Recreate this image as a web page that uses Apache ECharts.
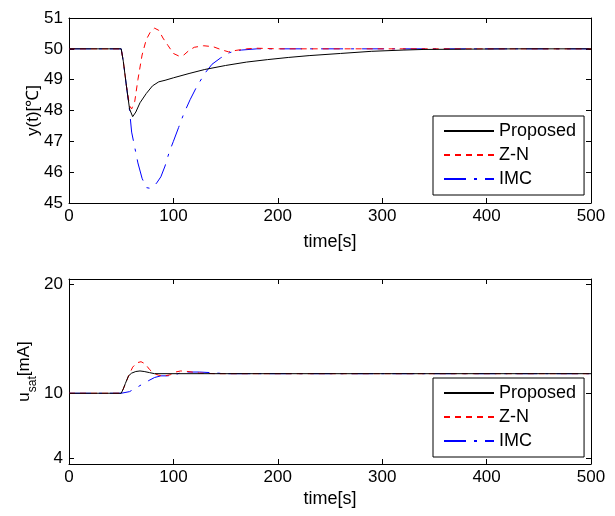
<!doctype html>
<html>
<head>
<meta charset="UTF-8">
<title>Temperature control response</title>
<script src="https://cdn.jsdelivr.net/npm/echarts@6/dist/echarts.min.js"></script>
<style>
	html, body { margin: 0; padding: 0; background: #fff; }
	#main { width: 615px; height: 516px; }
</style>
</head>
<body>
<div id="main"></div>
<script>
// series names
var names = ['Proposed', 'Z-N', 'IMC'];
var xTicks = [0, 100, 200, 300, 400, 500];
var yTicksTop = [45, 46, 47, 48, 49, 50, 51];
var yTicksBottom = [4, 10, 20];

// top plot: output temperature y(t)
var tPropY = [0, 50, 52, 55, 58, 61, 64, 68, 74, 80, 86, 92, 100, 115, 130, 150, 170, 190, 210, 230, 260, 290, 320, 340, 380, 430, 500];
var vPropY = [50, 50, 49.6, 48.8, 48.05, 47.8, 47.95, 48.25, 48.55, 48.8, 48.93, 48.98, 49.06, 49.2, 49.33, 49.46, 49.57, 49.65, 49.72, 49.78, 49.85, 49.92, 49.96, 49.98, 49.99, 50, 50];

var tZnY = [0, 50, 52, 55, 58, 60, 63, 66, 70, 74, 78, 82, 86, 90, 95, 100, 105, 110, 115, 120, 129, 138, 146, 153, 160, 170, 180, 200, 500];
var vZnY = [50, 50, 49.6, 48.8, 48.15, 48.05, 48.3, 49.0, 49.8, 50.3, 50.55, 50.67, 50.6, 50.35, 50.1, 49.85, 49.77, 49.8, 49.95, 50.05, 50.1, 50.07, 49.97, 49.9, 49.95, 50.0, 50.02, 50, 50];

var tImcY = [0, 50, 52, 55, 58, 60, 63, 66, 70, 74, 77, 80, 84, 88, 92, 96, 100, 105, 110, 116, 122, 130, 137, 145, 154, 165, 180, 200, 500];
var vImcY = [50, 50, 49.6, 48.8, 48.0, 47.3, 46.8, 46.3, 45.8, 45.5, 45.48, 45.5, 45.65, 45.85, 46.2, 46.65, 47.0, 47.45, 47.9, 48.35, 48.75, 49.2, 49.5, 49.7, 49.88, 49.96, 50.0, 50, 50];

// bottom plot: saturated control signal u_sat
var tPropU = [0, 50, 52, 54, 57, 60, 64, 68, 72, 77, 82, 500];
var vPropU = [10, 10, 10.4, 10.9, 11.6, 11.85, 12.0, 12.05, 12.0, 11.9, 11.8, 11.8];

var tZnU = [0, 50, 52, 55, 58, 61, 65, 69, 73, 77, 81, 86, 92, 97, 102, 107, 114, 125, 140, 500];
var vZnU = [10, 10, 10.4, 11.1, 11.8, 12.4, 12.8, 12.9, 12.7, 12.2, 11.85, 11.65, 11.6, 11.7, 11.95, 12.05, 12.0, 11.85, 11.8, 11.8];

var tImcU = [0, 50, 58, 67, 76, 82, 88, 94, 100, 106, 112, 125, 135, 150, 500];
var vImcU = [10, 10, 10.15, 10.65, 11.15, 11.45, 11.6, 11.6, 11.65, 11.85, 11.95, 11.95, 11.9, 11.8, 11.8];

function zip(t, v) {
	var out = [];
	for (var i = 0; i < t.length; i++) out.push([t[i], v[i]]);
	return out;
}

var font = '"Liberation Sans", Arial, Helvetica, sans-serif';
var styles = [
	{ color: '#000000', type: 'solid' },
	{ color: '#ff0000', type: [6, 5] },
	{ color: '#0000ff', type: [22, 8, 3, 8] }
];

var chart = echarts.init(document.getElementById('main'), null, { renderer: 'canvas' });

function xAx(grid, bottom, gap) {
	return {
		type: 'value', gridIndex: grid, min: 0, max: 500, interval: 100,
		position: bottom ? 'bottom' : 'top',
		name: bottom ? 'time[s]' : '', nameLocation: 'middle', nameGap: gap,
		nameMoveOverlap: false,
		nameTextStyle: { fontFamily: font, fontSize: 18, color: '#000' },
		axisLine: { show: true, onZero: false, lineStyle: { color: '#000', width: 1 } },
		axisTick: { show: true, inside: true, length: 5, lineStyle: { color: '#000' } },
		axisLabel: { show: bottom, margin: 5, fontFamily: font, fontSize: 17, color: '#000' },
		splitLine: { show: false }
	};
}

function yAx(grid, left, min, max, ticks, name, gap) {
	return {
		type: 'value', gridIndex: grid, min: min, max: max,
		position: left ? 'left' : 'right',
		name: left ? name : '', nameLocation: 'middle', nameGap: gap,
		nameMoveOverlap: false,
		nameTextStyle: { fontFamily: font, fontSize: 17, color: '#000' },
		axisLine: { show: true, onZero: false, lineStyle: { color: '#000', width: 1 } },
		axisTick: { show: true, inside: true, length: 5, lineStyle: { color: '#000' }, customValues: ticks },
		axisLabel: { show: left, margin: 6, fontFamily: font, fontSize: 17, color: '#000', customValues: ticks },
		splitLine: { show: false }
	};
}

var yTop = yAx(0, true, 45, 51, yTicksTop, 'y(t)[\u2103]', 27);
var yTopR = yAx(0, false, 45, 51, yTicksTop, '', 0);
var yBot = yAx(1, true, 3.5, 20.5, yTicksBottom, '{a|u}{b|sat}{a|[mA]}', 32);
// subscript: the taller boxes are centred, so padding shifts the glyphs
yBot.nameTextStyle = {
	fontFamily: font, color: '#000',
	rich: {
		a: { fontFamily: font, fontSize: 17, lineHeight: 17, color: '#000', padding: [0, 0, 8, 0] },
		b: { fontFamily: font, fontSize: 12, lineHeight: 12, color: '#000', padding: [9, 0, 0, 0] }
	}
};
var yBotR = yAx(1, false, 3.5, 20.5, yTicksBottom, '', 0);

var sets = [
	[zip(tPropY, vPropY), zip(tZnY, vZnY), zip(tImcY, vImcY)],
	[zip(tPropU, vPropU), zip(tZnU, vZnU), zip(tImcU, vImcU)]
];

var series = [];
for (var g = 0; g < 2; g++) {
	for (var k = 0; k < 3; k++) {
		series.push({
			name: names[k], type: 'line',
			xAxisIndex: g * 2, yAxisIndex: g * 2,
			data: sets[g][k],
			symbol: 'none', smooth: false, silent: true,
			lineStyle: { color: styles[k].color, width: 1, type: styles[k].type },
			itemStyle: { color: styles[k].color },
			z: 3 - k
		});
	}
}

function legendAt(top) {
	return {
		show: true, orient: 'vertical', left: 433, top: top,
		data: names,
		itemWidth: 50, itemHeight: 12, itemGap: 6,
		padding: [6, 8, 7, 10],
		backgroundColor: '#fff', borderColor: '#000', borderWidth: 1, borderRadius: 0,
		// hide the round marker, keep only the line sample
		itemStyle: { color: 'rgba(0,0,0,0)', borderColor: 'rgba(0,0,0,0)', borderWidth: 0 },
		textStyle: { fontFamily: font, fontSize: 18, color: '#000', lineHeight: 18 },
		selectedMode: false
	};
}

var option = {
	backgroundColor: '#fff',
	animation: false,
	grid: [
		{ left: 69, top: 18, width: 522, height: 185 },
		{ left: 69, top: 279, width: 522, height: 185 }
	],
	xAxis: [xAx(0, true, 30), xAx(0, false, 0), xAx(1, true, 26), xAx(1, false, 0)],
	yAxis: [yTop, yTopR, yBot, yBotR],
	legend: [legendAt(116), legendAt(378)],
	series: series
};

chart.setOption(option);
</script>
</body>
</html>
